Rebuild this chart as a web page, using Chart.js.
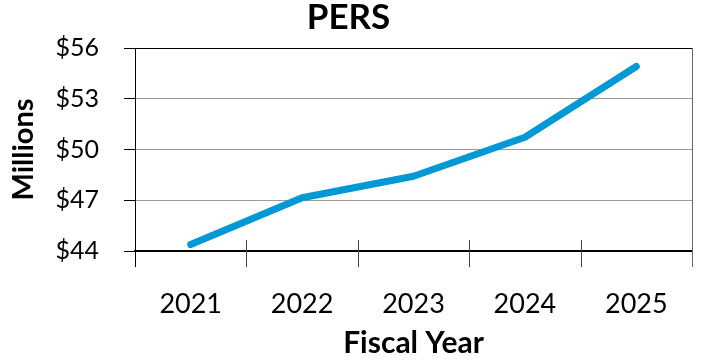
<!DOCTYPE html>
<html>
<head>
<meta charset="utf-8">
<script src="https://cdn.jsdelivr.net/npm/chart.js@4/dist/chart.umd.min.js"></script>
<style>
  html, body { margin: 0; padding: 0; background: #fff; }
  #wrap { width: 705px; height: 362px; }
</style>
</head>
<body>
<div id="wrap"><canvas id="c" width="705" height="362"></canvas></div>
<script>
const categories = ['2021', '2022', '2023', '2024', '2025'];
const persValues = [44.38, 47.15, 48.42, 50.72, 54.91];
const yTickValues = [44, 47, 50, 53, 56];
const yTickPrefix = '$';
const titleText = 'PERS';
const xTitle = 'Fiscal Year';
const yTitle = 'Millions';

const FONT = 'Lato';

const axisMarks = {
  id: 'axisMarks',
  afterDraw(chart) {
    const { ctx, chartArea, scales: { x } } = chart;
    const n = x.ticks.length;
    const step = x.getPixelForTick(1) - x.getPixelForTick(0);
    ctx.save();
    ctx.lineWidth = 1;
    for (let i = 0; i <= n; i++) {
      const px = Math.round(x.getPixelForTick(0) - step / 2 + i * step) + 0.5;
      ctx.strokeStyle = (i === 0) ? '#000' : (i === n ? '#666' : '#444');
      ctx.beginPath();
      if (i === 0 || i === n) {
        ctx.moveTo(px, chartArea.top);
      } else {
        ctx.moveTo(px, chartArea.bottom - 11);
      }
      ctx.lineTo(px, chartArea.bottom + 16);
      ctx.stroke();
    }
    ctx.restore();
  }
};

new Chart(document.getElementById('c'), {
  type: 'line',
  data: {
    labels: categories,
    datasets: [{
      data: persValues,
      borderColor: '#0099d5',
      backgroundColor: '#0099d5',
      borderWidth: 7,
      borderCapStyle: 'round',
      borderJoinStyle: 'round',
      pointRadius: 0,
      tension: 0,
      fill: false
    }]
  },
  options: {
    responsive: false,
    animation: false,
    layout: { padding: { left: 5, right: 13, top: 0, bottom: 0 } },
    plugins: {
      legend: { display: false },
      tooltip: { enabled: false },
      title: {
        display: true,
        text: titleText,
        color: '#000',
        font: { family: FONT, size: 35, weight: 'bold', lineHeight: 1.0 },
        padding: { top: 0, bottom: 13 }
      }
    },
    scales: {
      x: {
        type: 'category',
        offset: true,
        grid: { display: false, offset: true },
        border: { display: true, color: '#000', width: 1.5 },
        ticks: {
          color: '#000',
          font: { family: FONT, size: 27 },
          padding: 29,
          maxRotation: 0
        },
        title: {
          display: true,
          text: xTitle,
          color: '#000',
          font: { family: FONT, size: 30, weight: 'bold', lineHeight: 1.2 },
          padding: { top: 0, bottom: 1 }
        },
        afterFit: (s) => { s.height = 111; }
      },
      y: {
        min: 44,
        max: 56,
        afterBuildTicks: (s) => { s.ticks = yTickValues.map(v => ({ value: v })); },
        grid: {
          color: (c) => (c.tick && (c.tick.value === 44 || c.tick.value === 56)) ? '#000' : '#9a9a9a',
          tickColor: '#000',
          tickLength: 11,
          lineWidth: 1
        },
        border: { display: true, color: '#000', width: 1 },
        ticks: {
          color: '#000',
          font: { family: FONT, size: 25 },
          padding: 25,
          callback: (v) => yTickPrefix + v
        },
        title: {
          display: true,
          text: yTitle,
          color: '#000',
          font: { family: FONT, size: 29, weight: 'bold', lineHeight: 1.2 },
          padding: { top: 1, bottom: 0 }
        },
        afterFit: (s) => { s.width = 130; }
      }
    }
  },
  plugins: [axisMarks]
});
</script>
</body>
</html>
